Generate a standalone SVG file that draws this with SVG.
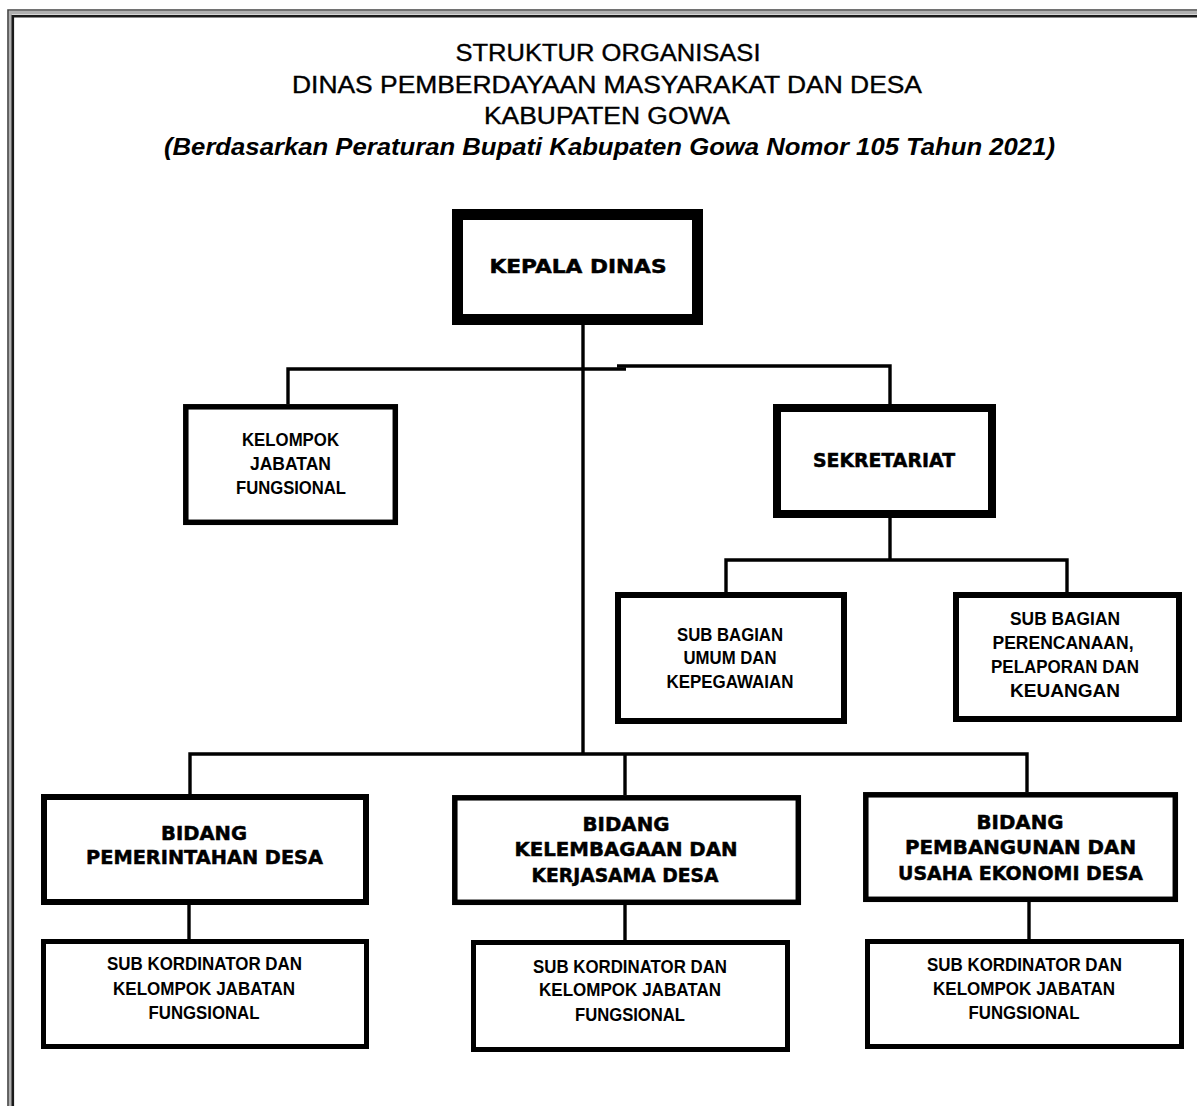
<svg xmlns="http://www.w3.org/2000/svg" width="1197" height="1106" viewBox="0 0 1197 1106">
<style>
.box{fill:#fff;stroke:#000}
.con{fill:none;stroke:#000;stroke-width:3.4}
.t{font-family:"Liberation Sans Narrow","Liberation Sans",Arial,sans-serif;fill:#000;text-anchor:middle}
.title{font-size:23px;stroke:#000;stroke-width:0.35}
.ital{font-size:23px;font-style:italic;font-weight:bold}
.nb{font-size:18.5px;font-weight:bold}
.hv{font-family:"DejaVu Sans",Verdana,sans-serif;font-weight:bold;fill:#000;text-anchor:middle;font-size:19px;stroke:#000;stroke-width:0.5}
</style>
<rect x="0" y="0" width="1197" height="1106" fill="#fff"/>
<g id="frame">
<path d="M10.2 1106 V12.8 H1197" fill="none" stroke="#b0b0b0" stroke-width="3.5"/>
<path d="M8 1106 V10 H1197" fill="none" stroke="#444" stroke-width="1.6"/>
<path d="M12.8 1106 V16.3 H1197" fill="none" stroke="#1a1a1a" stroke-width="2.6"/>
</g>
<g id="title">
<text class="t title" x="608" y="61" textLength="305" lengthAdjust="spacingAndGlyphs">STRUKTUR ORGANISASI</text>
<text class="t title" x="607" y="93" textLength="630" lengthAdjust="spacingAndGlyphs">DINAS PEMBERDAYAAN MASYARAKAT DAN DESA</text>
<text class="t title" x="607" y="124" textLength="246" lengthAdjust="spacingAndGlyphs">KABUPATEN GOWA</text>
<text class="t ital" x="609.5" y="155" textLength="891" lengthAdjust="spacingAndGlyphs">(Berdasarkan Peraturan Bupati Kabupaten Gowa Nomor 105 Tahun 2021)</text>
</g>
<g id="connectors">
<path class="con" d="M583 325 V754"/>
<path class="con" d="M288 404 V369 H626"/>
<path class="con" d="M617 366 H890 V404"/>
<path class="con" d="M890 518 V560"/>
<path class="con" d="M726 592 V560 H1067 V592"/>
<path class="con" d="M190 794 V754 H1027 V792"/>
<path class="con" d="M625 754 V795"/>
<path class="con" d="M189 905 V939"/>
<path class="con" d="M625 905 V940"/>
<path class="con" d="M1029 902 V939"/>
</g>
<g id="kepala-dinas">
<rect class="box" x="457.5" y="214.5" width="240" height="105" stroke-width="11"/>
<text class="hv" x="578" y="273" textLength="177" lengthAdjust="spacingAndGlyphs">KEPALA DINAS</text>
</g>
<g id="kelompok-jabatan-fungsional">
<rect class="box" x="185.8" y="406.8" width="209.5" height="115.5" stroke-width="5.5"/>
<text class="t nb" x="290.5" y="446" textLength="97" lengthAdjust="spacingAndGlyphs">KELOMPOK</text>
<text class="t nb" x="290.5" y="470" textLength="81" lengthAdjust="spacingAndGlyphs">JABATAN</text>
<text class="t nb" x="291" y="494" textLength="110" lengthAdjust="spacingAndGlyphs">FUNGSIONAL</text>
</g>
<g id="sekretariat">
<rect class="box" x="777" y="408" width="215" height="106" stroke-width="8"/>
<text class="hv" x="884" y="467" textLength="142" lengthAdjust="spacingAndGlyphs">SEKRETARIAT</text>
</g>
<g id="sub-bagian-umum">
<rect class="box" x="618" y="595" width="226" height="126" stroke-width="6"/>
<text class="t nb" x="730" y="641" textLength="106" lengthAdjust="spacingAndGlyphs">SUB BAGIAN</text>
<text class="t nb" x="730" y="664" textLength="93" lengthAdjust="spacingAndGlyphs">UMUM DAN</text>
<text class="t nb" x="730" y="688" textLength="127" lengthAdjust="spacingAndGlyphs">KEPEGAWAIAN</text>
</g>
<g id="sub-bagian-perencanaan">
<rect class="box" x="956" y="595" width="223" height="124" stroke-width="6"/>
<text class="t nb" x="1065" y="625" textLength="110" lengthAdjust="spacingAndGlyphs">SUB BAGIAN</text>
<text class="t nb" x="1063" y="649" textLength="141" lengthAdjust="spacingAndGlyphs">PERENCANAAN,</text>
<text class="t nb" x="1065" y="673" textLength="148" lengthAdjust="spacingAndGlyphs">PELAPORAN DAN</text>
<text class="t nb" x="1065" y="697" textLength="110" lengthAdjust="spacingAndGlyphs">KEUANGAN</text>
</g>
<g id="bidang-pemerintahan-desa">
<rect class="box" x="44" y="797" width="322" height="105" stroke-width="6"/>
<text class="hv" x="204" y="840" textLength="86" lengthAdjust="spacingAndGlyphs">BIDANG</text>
<text class="hv" x="204.5" y="864" textLength="237" lengthAdjust="spacingAndGlyphs">PEMERINTAHAN DESA</text>
</g>
<g id="bidang-kelembagaan">
<rect class="box" x="454.8" y="797.8" width="343.5" height="104.5" stroke-width="5.5"/>
<text class="hv" x="626" y="831" textLength="87" lengthAdjust="spacingAndGlyphs">BIDANG</text>
<text class="hv" x="626" y="856" textLength="223" lengthAdjust="spacingAndGlyphs">KELEMBAGAAN DAN</text>
<text class="hv" x="625" y="882" textLength="187" lengthAdjust="spacingAndGlyphs">KERJASAMA DESA</text>
</g>
<g id="bidang-pembangunan">
<rect class="box" x="865.8" y="794.8" width="309.5" height="104.5" stroke-width="5.5"/>
<text class="hv" x="1020" y="829" textLength="87" lengthAdjust="spacingAndGlyphs">BIDANG</text>
<text class="hv" x="1020.5" y="854" textLength="231" lengthAdjust="spacingAndGlyphs">PEMBANGUNAN DAN</text>
<text class="hv" x="1020.5" y="880" textLength="245" lengthAdjust="spacingAndGlyphs">USAHA EKONOMI DESA</text>
</g>
<g id="sub-kordinator-1">
<rect class="box" x="43.5" y="941.5" width="323" height="105" stroke-width="5"/>
<text class="t nb" x="204.5" y="970" textLength="195" lengthAdjust="spacingAndGlyphs">SUB KORDINATOR DAN</text>
<text class="t nb" x="204" y="995" textLength="182" lengthAdjust="spacingAndGlyphs">KELOMPOK JABATAN</text>
<text class="t nb" x="204" y="1019" textLength="111" lengthAdjust="spacingAndGlyphs">FUNGSIONAL</text>
</g>
<g id="sub-kordinator-2">
<rect class="box" x="473.5" y="942.5" width="314" height="107" stroke-width="5"/>
<text class="t nb" x="630" y="973" textLength="194" lengthAdjust="spacingAndGlyphs">SUB KORDINATOR DAN</text>
<text class="t nb" x="630" y="996" textLength="182" lengthAdjust="spacingAndGlyphs">KELOMPOK JABATAN</text>
<text class="t nb" x="630" y="1021" textLength="110" lengthAdjust="spacingAndGlyphs">FUNGSIONAL</text>
</g>
<g id="sub-kordinator-3">
<rect class="box" x="867.5" y="941.5" width="314" height="105" stroke-width="5"/>
<text class="t nb" x="1024.5" y="971" textLength="195" lengthAdjust="spacingAndGlyphs">SUB KORDINATOR DAN</text>
<text class="t nb" x="1024" y="995" textLength="182" lengthAdjust="spacingAndGlyphs">KELOMPOK JABATAN</text>
<text class="t nb" x="1024" y="1019" textLength="111" lengthAdjust="spacingAndGlyphs">FUNGSIONAL</text>
</g>
</svg>
